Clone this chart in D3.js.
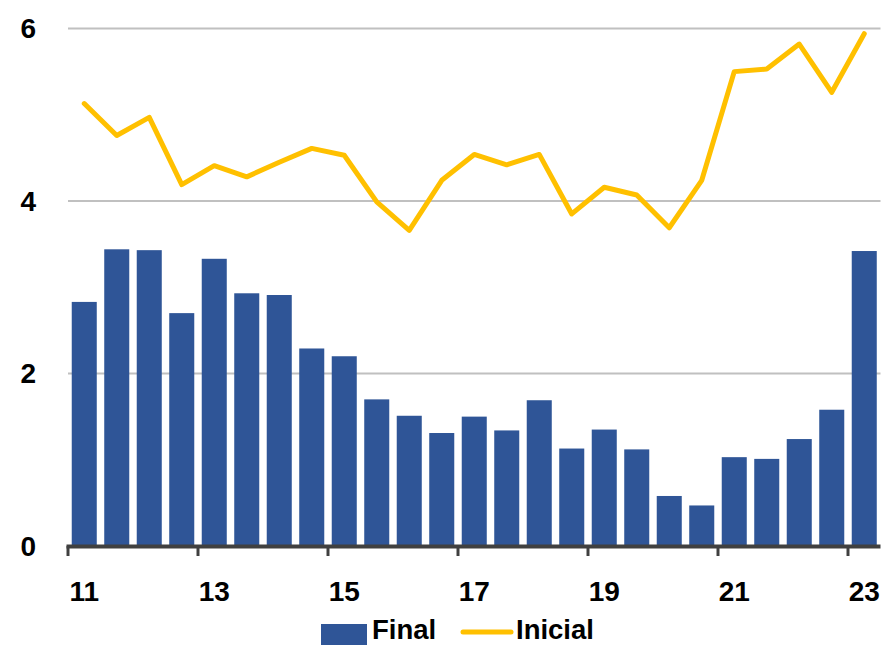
<!DOCTYPE html>
<html>
<head>
<meta charset="utf-8">
<script src="https://cdn.jsdelivr.net/npm/d3@7/dist/d3.min.js"></script>
<style>
  html, body { margin: 0; padding: 0; background: #fff; }
  svg { display: block; font-family: "Liberation Sans", Arial, sans-serif; font-weight: bold; }
</style>
</head>
<body>
<svg id="chart" width="884" height="645"></svg>
<script>
// Data
const periods = ["11","11.5","12","12.5","13","13.5","14","14.5","15","15.5","16","16.5","17","17.5","18","18.5","19","19.5","20","20.5","21","21.5","22","22.5","23"];
const finalValues = [2.83,3.44,3.43,2.70,3.33,2.93,2.91,2.29,2.20,1.70,1.51,1.31,1.50,1.34,1.69,1.13,1.35,1.12,0.58,0.47,1.03,1.01,1.24,1.58,3.42];
const inicialValues = [5.13,4.76,4.97,4.19,4.41,4.28,4.45,4.61,4.53,3.99,3.66,4.24,4.54,4.42,4.54,3.85,4.16,4.07,3.69,4.24,5.50,5.53,5.82,5.26,5.94];
const yTicks = [0,2,4,6];
const xLabels = ["11","13","15","17","19","21","23"];
const seriesNames = ["Final","Inicial"];

const colors = { bar: "#2F5597", line: "#FFC000", grid: "#C0C0C0", axis: "#404040", text: "#000" };

const svg = d3.select("#chart");
const left = 68, right = 880.5;

const x = d3.scaleBand().domain(periods).range([left, right]).paddingInner(0.23).paddingOuter(0.115);
const y = d3.scaleLinear().domain([0, 6]).range([546, 28.5]);

// Gridlines
svg.append("g").selectAll("line").data(yTicks.filter(d => d > 0)).join("line")
  .attr("x1", left).attr("x2", right)
  .attr("y1", d => y(d)).attr("y2", d => y(d))
  .attr("stroke", colors.grid).attr("stroke-width", 2);

// Y labels
svg.append("g").selectAll("text").data(yTicks).join("text")
  .attr("x", 36).attr("y", d => y(d) + 9.5)
  .attr("text-anchor", "end")
  .attr("font-size", 28).attr("fill", colors.text)
  .text(d => d);

// Bars
svg.append("g").selectAll("rect").data(periods).join("rect")
  .attr("x", d => x(d)).attr("width", x.bandwidth())
  .attr("y", (d, i) => y(finalValues[i]))
  .attr("height", (d, i) => y(0) - y(finalValues[i]))
  .attr("fill", colors.bar);

// X axis line and ticks
svg.append("line").attr("x1", left - 1.5).attr("x2", right)
  .attr("y1", 546.5).attr("y2", 546.5)
  .attr("stroke", colors.axis).attr("stroke-width", 4);
svg.append("g").selectAll("line").data(periods.filter((d, i) => i % 4 === 0)).join("line")
  .attr("x1", d => x(d) - (x.step() - x.bandwidth()) / 2)
  .attr("x2", d => x(d) - (x.step() - x.bandwidth()) / 2)
  .attr("y1", 546).attr("y2", 556)
  .attr("stroke", colors.axis).attr("stroke-width", 3);

// X labels
svg.append("g").selectAll("text").data(xLabels).join("text")
  .attr("x", d => x(d) + x.bandwidth() / 2)
  .attr("y", 601)
  .attr("text-anchor", "middle")
  .attr("font-size", 28).attr("fill", colors.text)
  .text(d => d);

// Line
const line = d3.line()
  .x((d, i) => x(periods[i]) + x.bandwidth() / 2)
  .y(d => y(d));
svg.append("path").datum(inicialValues)
  .attr("d", line)
  .attr("fill", "none").attr("stroke", colors.line)
  .attr("stroke-width", 5).attr("stroke-linejoin", "round").attr("stroke-linecap", "round");

// Legend
const lg = svg.append("g");
lg.append("rect").attr("x", 321).attr("y", 624).attr("width", 46).attr("height", 24).attr("fill", colors.bar);
lg.append("text").attr("x", 372).attr("y", 639).attr("font-size", 27.5).attr("fill", colors.text).text(seriesNames[0]);
lg.append("line").attr("x1", 463).attr("x2", 511).attr("y1", 632).attr("y2", 632)
  .attr("stroke", colors.line).attr("stroke-width", 5).attr("stroke-linecap", "round");
lg.append("text").attr("x", 516).attr("y", 639).attr("font-size", 27.5).attr("fill", colors.text).text(seriesNames[1]);
</script>
</body>
</html>
